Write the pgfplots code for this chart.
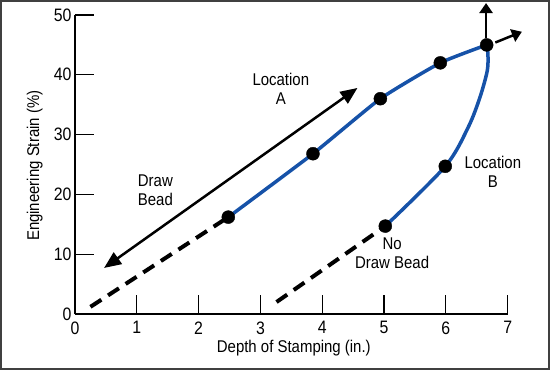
\documentclass[border=0pt]{standalone}
\usepackage{fontspec}
\setmainfont{Liberation Sans}[FakeStretch=0.88]
\usepackage{pgfplots}
\pgfplotsset{compat=1.18}
\usetikzlibrary{arrows.meta}
\definecolor{curveblue}{RGB}{22,82,168}
\begin{document}
\begin{tikzpicture}
\useasboundingbox (-75pt,-56pt) rectangle (475pt,314pt);
\draw[black!75, line width=2pt] (-74pt,-55pt) rectangle (474pt,313pt);
\begin{axis}[
  scale only axis, width=432.7pt, height=299pt,
  at={(0pt,0pt)}, anchor=south west,
  xmin=0, xmax=7, ymin=0, ymax=50,
  axis x line*=bottom, axis y line*=left,
  axis line style={line width=2pt, black},
  tick align=inside, major tick length=19pt,
  tick style={line width=1.2pt, black},
  xtick={0,1,...,7}, ytick={0,10,...,50},
  /pgf/number format/assume math mode=true,
  tick label style={font=\fontsize{18}{18}\selectfont},
  xticklabel style={yshift=-4pt},
  xlabel={Depth of Stamping (in.)},
  ylabel={Engineering Strain (\%)},
  every axis x label/.style={at={(axis cs:3.54,-5.7)}, anchor=center, font=\fontsize{17}{17}\selectfont},
  every axis y label/.style={at={(axis cs:-0.65,24.8)}, anchor=center, rotate=90, font=\fontsize{17}{17}\selectfont},
  clip=false,
]
% dashed extrapolations
\addplot[black, line width=4pt, dash pattern=on 13pt off 8pt] coordinates {(0.25,1.2) (2.48,16.2)};
\addplot[black, line width=4pt, dash pattern=on 13pt off 8pt] coordinates {(3.26,2.0) (5.02,14.7)};
% Location A curve
\addplot[curveblue, line width=3.5pt, smooth, tension=0.3] coordinates {(2.48,16.2) (3.85,26.8) (4.94,36.0) (5.91,42.0) (6.66,45.0)};
% Location B curve
\addplot[curveblue, line width=3.5pt, smooth, tension=0.5] coordinates {(5.02,14.7) (5.99,24.7) (6.36,31.2) (6.55,36.2) (6.67,40.7) (6.68,43.5) (6.66,45.0)};
% data points
\addplot[only marks, mark=*, mark size=6.5pt, black] coordinates {(2.48,16.2) (3.85,26.8) (4.94,36.0) (5.91,42.0) (6.66,45.0) (5.02,14.7) (5.99,24.7)};
% arrows
\addplot[black, line width=2.5pt, {Triangle[length=17pt,width=14pt]}-{Triangle[length=17pt,width=14pt]}] coordinates {(0.47,7.7) (4.57,37.8)};
\addplot[black, line width=2.5pt, -{Triangle[length=10pt,width=13pt]}] coordinates {(6.65,46.2) (6.65,52.0)};
\addplot[black, line width=2.5pt, -{Triangle[length=10pt,width=13pt]}] coordinates {(6.80,45.4) (7.23,47.2)};
% labels
\node[align=center, font=\fontsize{17}{19}\selectfont] at (axis cs:3.33,37.7) {Location\\A};
\node[align=center, font=\fontsize{17}{19}\selectfont] at (axis cs:1.30,20.7) {Draw\\Bead};
\node[align=center, font=\fontsize{17}{19}\selectfont] at (axis cs:6.76,23.7) {Location\\B};
\node[align=center, font=\fontsize{17}{19}\selectfont] at (axis cs:5.13,10.2) {No\\Draw Bead};
\end{axis}
\end{tikzpicture}
\end{document}
